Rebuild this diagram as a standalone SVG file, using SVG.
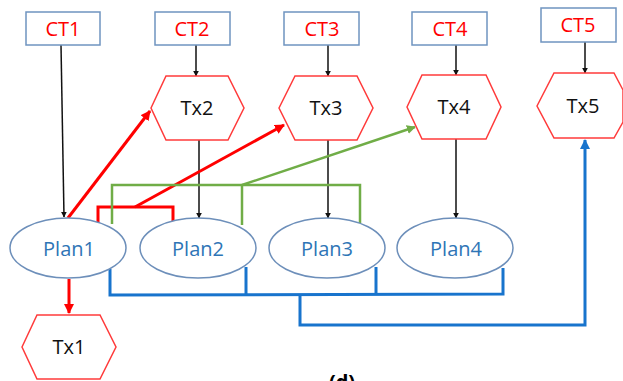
<svg xmlns="http://www.w3.org/2000/svg" width="623" height="381" viewBox="0 0 623 381">
<style>
.ct{fill:#fff;stroke:#6f94c0;stroke-width:1.5}
.hex{fill:#fff;stroke:#ff3b3b;stroke-width:1.5}
.pl{fill:#fff;stroke:#6d8fba;stroke-width:1.5}
.t{font-family:"Open Sans","Liberation Sans",sans-serif;font-size:20px;text-anchor:middle}
.red{fill:#ff0000}
.blk{fill:#111}
.blu{fill:#2e75b6}
.k{stroke:#111;stroke-width:1.5;fill:none}
.r{stroke:#ff0000;stroke-width:3;fill:none}
.g{stroke:#70ad47;stroke-width:2.5;fill:none}
.b{stroke:#1874cd;stroke-width:3;fill:none}
</style>
<defs>
<marker id="ak" viewBox="0 0 10 10" refX="9" refY="5" markerWidth="6" markerHeight="6" markerUnits="userSpaceOnUse" orient="auto"><path d="M0,0L10,5L0,10z" fill="#111"/></marker>
<marker id="ar" viewBox="0 0 10 10" refX="9" refY="5" markerWidth="10" markerHeight="10" markerUnits="userSpaceOnUse" orient="auto"><path d="M0,0L10,5L0,10z" fill="#ff0000"/></marker>
<marker id="ag" viewBox="0 0 10 10" refX="9" refY="5" markerWidth="9" markerHeight="9" markerUnits="userSpaceOnUse" orient="auto"><path d="M0,0L10,5L0,10z" fill="#70ad47"/></marker>
<marker id="ab" viewBox="0 0 10 10" refX="9" refY="5" markerWidth="10" markerHeight="10" markerUnits="userSpaceOnUse" orient="auto"><path d="M0,0L10,5L0,10z" fill="#1874cd"/></marker>
</defs>
<rect width="623" height="381" fill="#fff"/>
<g id="connectors">
<line class="k" x1="61" y1="45" x2="64" y2="217" marker-end="url(#ak)"/>
<line class="k" x1="196" y1="45" x2="196" y2="76" marker-end="url(#ak)"/>
<line class="k" x1="328" y1="45" x2="328" y2="76" marker-end="url(#ak)"/>
<line class="k" x1="456" y1="45" x2="456" y2="75" marker-end="url(#ak)"/>
<line class="k" x1="585" y1="42" x2="585" y2="73" marker-end="url(#ak)"/>
<line class="k" x1="199" y1="140" x2="199" y2="218" marker-end="url(#ak)"/>
<line class="k" x1="328" y1="140" x2="328" y2="218" marker-end="url(#ak)"/>
<line class="k" x1="456" y1="139" x2="456" y2="218" marker-end="url(#ak)"/>
<line class="r" x1="68" y1="218" x2="150" y2="111" marker-end="url(#ar)"/>
<polyline class="r" points="98,223 98,207 173,207 173,222"/>
<line class="r" x1="135" y1="207" x2="284" y2="125" marker-end="url(#ar)"/>
<line class="r" x1="69" y1="279" x2="69" y2="313" marker-end="url(#ar)"/>
<polyline class="g" points="112,224 112,185 360,185 360,223"/>
<line class="g" x1="242" y1="185" x2="242" y2="225"/>
<line class="g" x1="242" y1="185" x2="415" y2="127" marker-end="url(#ag)"/>
<polyline class="b" points="110,269 110,295 503,294 503,268"/>
<line class="b" x1="246" y1="267" x2="246" y2="295"/>
<line class="b" x1="376" y1="267" x2="376" y2="294"/>
<polyline class="b" points="300,294 300,325 585,325 585,140" marker-end="url(#ab)"/>
</g>
<g id="CT1"><rect class="ct" x="26" y="12" width="74" height="33"/><text class="t red" x="63" y="36">CT1</text></g>
<g id="CT2"><rect class="ct" x="155" y="12" width="75" height="33"/><text class="t red" x="192" y="36">CT2</text></g>
<g id="CT3"><rect class="ct" x="284" y="12" width="75" height="33"/><text class="t red" x="322" y="36">CT3</text></g>
<g id="CT4"><rect class="ct" x="412" y="12" width="75" height="33"/><text class="t red" x="450" y="36">CT4</text></g>
<g id="CT5"><rect class="ct" x="541" y="8" width="75" height="34"/><text class="t red" x="578" y="32">CT5</text></g>
<g id="Tx2"><polygon class="hex" points="151,108 166,76 228,76 244,108 228,140 166,140"/><text class="t blk" x="197" y="115">Tx2</text></g>
<g id="Tx3"><polygon class="hex" points="279,108 295,76 357,76 373,108 357,140 295,140"/><text class="t blk" x="326" y="115">Tx3</text></g>
<g id="Tx4"><polygon class="hex" points="407,107 422,75 486,75 501,107 486,139 422,139"/><text class="t blk" x="454" y="114">Tx4</text></g>
<g id="Tx5"><polygon class="hex" points="537,106 554,73 614,73 623,90 623,122 614,138 554,138"/><text class="t blk" x="583" y="113">Tx5</text></g>
<g id="Tx1"><polygon class="hex" points="22,347 37,315 100,315 116,347 100,379 37,379"/><text class="t blk" x="69" y="354">Tx1</text></g>
<g id="Plan1"><ellipse class="pl" cx="68" cy="248" rx="58" ry="30"/><text class="t blu" x="69" y="256">Plan1</text></g>
<g id="Plan2"><ellipse class="pl" cx="198" cy="248" rx="58" ry="30"/><text class="t blu" x="198" y="256">Plan2</text></g>
<g id="Plan3"><ellipse class="pl" cx="327" cy="248" rx="58" ry="30"/><text class="t blu" x="327" y="256">Plan3</text></g>
<g id="Plan4"><ellipse class="pl" cx="455" cy="248" rx="58" ry="30"/><text class="t blu" x="456" y="256">Plan4</text></g>
<text x="342" y="389" style="font-family:'Open Sans','Liberation Sans',sans-serif;font-size:20px;font-weight:bold;text-anchor:middle" fill="#000">(d)</text>
</svg>
